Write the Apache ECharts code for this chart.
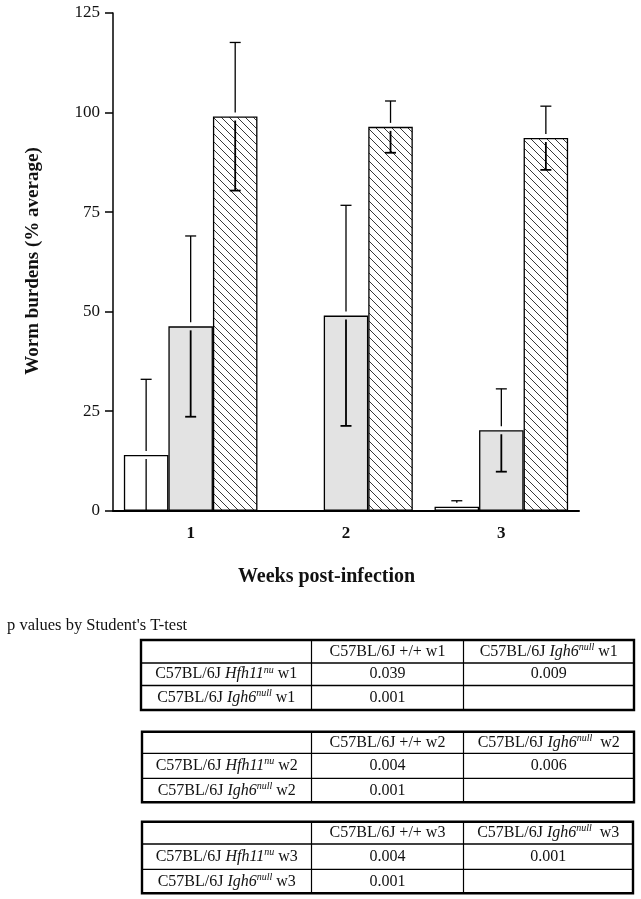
<!DOCTYPE html>
<html>
<head>
<meta charset="utf-8">
<script src="https://cdn.jsdelivr.net/npm/echarts@6/dist/echarts.min.js"></script>
<style>html,body{margin:0;padding:0;background:#fff}#c{width:641px;height:899px}</style>
</head>
<body>
<div id="c"></div>
<script>
// ---- data ----
const weeks = ['1', '2', '3'];
const yTicks = [0, 25, 50, 75, 100, 125];
const wildType = [14, 0, 1];          // C57BL/6J +/+
const wildTypeErr = [19, 0, 1.5];
const nude = [46.3, 49, 20.2];        // C57BL/6J Hfh11nu
const nudeErr = [22.7, 27.7, 10.4];
const ighNull = [99, 96.4, 93.6];     // C57BL/6J Igh6null
const ighNullErr = [18.6, 6.5, 8];

const yTitle = 'Worm burdens (% average)';
const xTitle = 'Weeks post-infection';
const tableCaption = "p values by Student's T-test";
const weekTags = ['w1', 'w2', 'w3'];
const pValues = [
  [['0.039', '0.009'], ['0.001', '']],
  [['0.004', '0.006'], ['0.001', '']],
  [['0.004', '0.001'], ['0.001', '']]
];

// ---- styles ----
const SERIF = '"Liberation Serif", "Times New Roman", serif';
const CAT_GAP = 0.14;

const hatch = document.createElement('canvas');
hatch.width = 8; hatch.height = 8;
(function () {
  const g = hatch.getContext('2d');
  g.fillStyle = '#fff'; g.fillRect(0, 0, 8, 8);
  g.strokeStyle = '#222'; g.lineWidth = 0.9;
  g.beginPath();
  g.moveTo(-1, -1); g.lineTo(9, 9);
  g.moveTo(-1, 7); g.lineTo(1, 9);
  g.moveTo(7, -1); g.lineTo(9, 1);
  g.stroke();
})();

function barSeries(vals, color) {
  return {
    type: 'bar', data: vals, barGap: '0%', barCategoryGap: (CAT_GAP * 100) + '%',
    itemStyle: { color: color, borderColor: '#000', borderWidth: 1.3 },
    z: 2
  };
}

function errSeries(vals, errs, slot) {
  return {
    type: 'custom', z: 10, clip: false,
    data: vals.map((v, k) => [k, v, errs[k]]),
    renderItem: function (params, api) {
      const i = api.value(0), v = api.value(1), e = api.value(2);
      if (!e) return null;
      const band = api.size([1, 0])[0];
      const bw = band * (1 - CAT_GAP) / 3;
      const c = api.coord([i, v]);
      const x = c[0] + (slot - 1) * bw;
      const yv = c[1];
      const yTop = api.coord([i, v + e])[1];
      const low = v - e;
      const yLow = api.coord([i, Math.max(0, low)])[1];
      const gap = 4, cap = 5.5;
      const kids = [];
      const st1 = { stroke: '#000', lineWidth: 1.3 };
      const st2 = { stroke: '#000', lineWidth: 1.8 };
      if (yTop < yv - gap) kids.push({ type: 'line', shape: { x1: x, y1: yTop, x2: x, y2: yv - gap }, style: st1 });
      kids.push({ type: 'line', shape: { x1: x - cap, y1: yTop, x2: x + cap, y2: yTop }, style: st1 });
      if (yLow > yv + gap) kids.push({ type: 'line', shape: { x1: x, y1: yv + gap, x2: x, y2: yLow }, style: low < 0 ? st1 : st2 });
      if (low >= 0) kids.push({ type: 'line', shape: { x1: x - cap, y1: yLow, x2: x + cap, y2: yLow }, style: st2 });
      return { type: 'group', children: kids };
    }
  };
}

// ---- tables ----
const tableGeom = [
  { left: 141, right: 634, rows: [640, 663, 685.5, 710] },
  { left: 142, right: 634, rows: [731.7, 753.3, 778.3, 802.3] },
  { left: 142, right: 633, rows: [821.7, 844, 869.3, 893.3] }
];
const colLines = [311.5, 463.5];
const rich = {
  r: { fontFamily: SERIF, fontSize: 16, fill: '#111', lineHeight: 18 },
  i: { fontFamily: SERIF, fontSize: 16, fontStyle: 'italic', fill: '#111', lineHeight: 18 },
  s: { fontFamily: SERIF, fontSize: 10, fontStyle: 'italic', fill: '#111', verticalAlign: 'top', lineHeight: 18 }
};
function cellText(x, y, txt) {
  return { type: 'text', x: x, y: y, z: 20, style: { text: txt, rich: rich, align: 'center', verticalAlign: 'middle', fill: '#111', fontFamily: SERIF, fontSize: 16 } };
}
const graphics = [];
tableGeom.forEach((t, w) => {
  const tag = weekTags[w];
  const r = t.rows;
  graphics.push({ type: 'rect', z: 20, shape: { x: t.left, y: r[0], width: t.right - t.left, height: r[3] - r[0] }, style: { fill: 'none', stroke: '#000', lineWidth: 2.4 } });
  [r[1], r[2]].forEach(yy => graphics.push({ type: 'line', z: 20, shape: { x1: t.left, y1: yy, x2: t.right, y2: yy }, style: { stroke: '#000', lineWidth: 1.3 } }));
  colLines.forEach(xx => graphics.push({ type: 'line', z: 20, shape: { x1: xx, y1: r[0], x2: xx, y2: r[3] }, style: { stroke: '#000', lineWidth: 1.2 } }));
  const c0 = (t.left + colLines[0]) / 2, c1 = (colLines[0] + colLines[1]) / 2, c2 = (colLines[1] + t.right) / 2;
  const m = k => (r[k] + r[k + 1]) / 2;
  graphics.push(cellText(c1, m(0), '{r|C57BL/6J +/+ ' + tag + '}'));
  graphics.push(cellText(c2, m(0), '{r|C57BL/6J }{i|Igh6}{s|null}{r|' + (w ? '  ' : ' ') + tag + '}'));
  graphics.push(cellText(c0, m(1), '{r|C57BL/6J }{i|Hfh11}{s|nu}{r| ' + tag + '}'));
  graphics.push(cellText(c0, m(2), '{r|C57BL/6J }{i|Igh6}{s|null}{r| ' + tag + '}'));
  pValues[w].forEach((row, ri) => {
    row.forEach((p, ci) => { if (p) graphics.push(cellText(ci ? c2 : c1, m(ri + 1), '{r|' + p + '}')); });
  });
});
graphics.push({ type: 'text', x: 7, y: 626, z: 20, style: { text: tableCaption, fontFamily: SERIF, fontSize: 16.5, fill: '#111', align: 'left', verticalAlign: 'middle' } });
graphics.push({ type: 'text', x: 33, y: 261, rotation: Math.PI / 2, z: 20, style: { text: yTitle, fontFamily: SERIF, fontSize: 19, fontWeight: 'bold', fill: '#111', align: 'center', verticalAlign: 'middle' } });
graphics.push({ type: 'text', x: 326.5, y: 577, z: 20, style: { text: xTitle, fontFamily: SERIF, fontSize: 20, fontWeight: 'bold', fill: '#111', align: 'center', verticalAlign: 'middle' } });

const chart = echarts.init(document.getElementById('c'), null, { renderer: 'canvas' });
chart.setOption({
  animation: false,
  backgroundColor: '#fff',
  grid: { left: 113, right: 62, top: 13, bottom: 388.3, containLabel: false },
  xAxis: {
    type: 'category', data: weeks,
    axisLine: { lineStyle: { color: '#000', width: 2 } },
    axisTick: { alignWithLabel: true, length: 8, lineStyle: { color: '#000', width: 1.5 } },
    axisLabel: { color: '#111', fontFamily: SERIF, fontSize: 17, fontWeight: 'bold', margin: 14 }
  },
  yAxis: {
    type: 'value', min: yTicks[0], max: yTicks[yTicks.length - 1], interval: yTicks[1] - yTicks[0],
    splitLine: { show: false },
    axisLine: { show: true, lineStyle: { color: '#000', width: 1.5 } },
    axisTick: { show: true, length: 8, lineStyle: { color: '#000', width: 1.5 } },
    axisLabel: { color: '#111', fontFamily: SERIF, fontSize: 17, margin: 13 }
  },
  series: [
    barSeries(wildType, '#ffffff'),
    barSeries(nude, '#e3e3e3'),
    barSeries(ighNull, { image: hatch, repeat: 'repeat' }),
    errSeries(wildType, wildTypeErr, 0),
    errSeries(nude, nudeErr, 1),
    errSeries(ighNull, ighNullErr, 2)
  ],
  graphic: graphics
});
</script>
</body>
</html>
